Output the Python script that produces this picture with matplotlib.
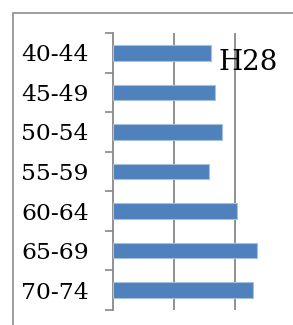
import matplotlib.pyplot as plt
from matplotlib.patches import Rectangle
from matplotlib.ticker import FixedLocator

# age groups, top to bottom
ages = ["40-44", "45-49", "50-54", "55-59", "60-64", "65-69", "70-74"]
# bar lengths in gridline units
values = [1.61, 1.67, 1.79, 1.57, 2.03, 2.36, 2.30]
title = "H28"

plt.rcParams["font.family"] = ["DejaVu Serif", "Liberation Serif"]

fig = plt.figure(figsize=(2.93, 3.25), dpi=100)

# outer chart border (runs past the right and bottom edges)
fig.patches.append(Rectangle((13 / 293, -0.1), 1.2, 1 - 13 / 325 + 0.1,
                             transform=fig.transFigure, fill=False,
                             edgecolor="#8c8c8c", linewidth=1.2))

ax = fig.add_axes([113 / 293, 15 / 325, 183 / 293, 277 / 325])
pos = list(range(len(ages)))
ax.barh(pos, values, height=0.39, color="#4f81bd", edgecolor="#a7c0de",
        linewidth=0.8, zorder=3)

ax.set_xlim(0, 3)
ax.set_ylim(len(ages) - 0.5, -0.5)
ax.set_xticks([1, 2, 3])
ax.xaxis.grid(True, color="#888888", linewidth=1.3)
ax.tick_params(axis="x", length=0, labelbottom=False)

ax.set_yticks(pos)
ax.set_yticklabels(ages, fontsize=16.8)
ax.tick_params(axis="y", which="major", length=0, pad=17.5)
ax.yaxis.set_minor_locator(FixedLocator([p - 0.5 for p in pos] + [len(ages) - 0.5]))
ax.tick_params(axis="y", which="minor", length=6, width=1.2, color="#888888")

for s in ["top", "right", "bottom"]:
    ax.spines[s].set_visible(False)
ax.spines["left"].set_color("#888888")
ax.spines["left"].set_linewidth(1.3)

fig.text(219 / 293, 1 - 62 / 325, title, fontsize=20, va="center", ha="left")

fig.savefig("out.png", dpi=100)
